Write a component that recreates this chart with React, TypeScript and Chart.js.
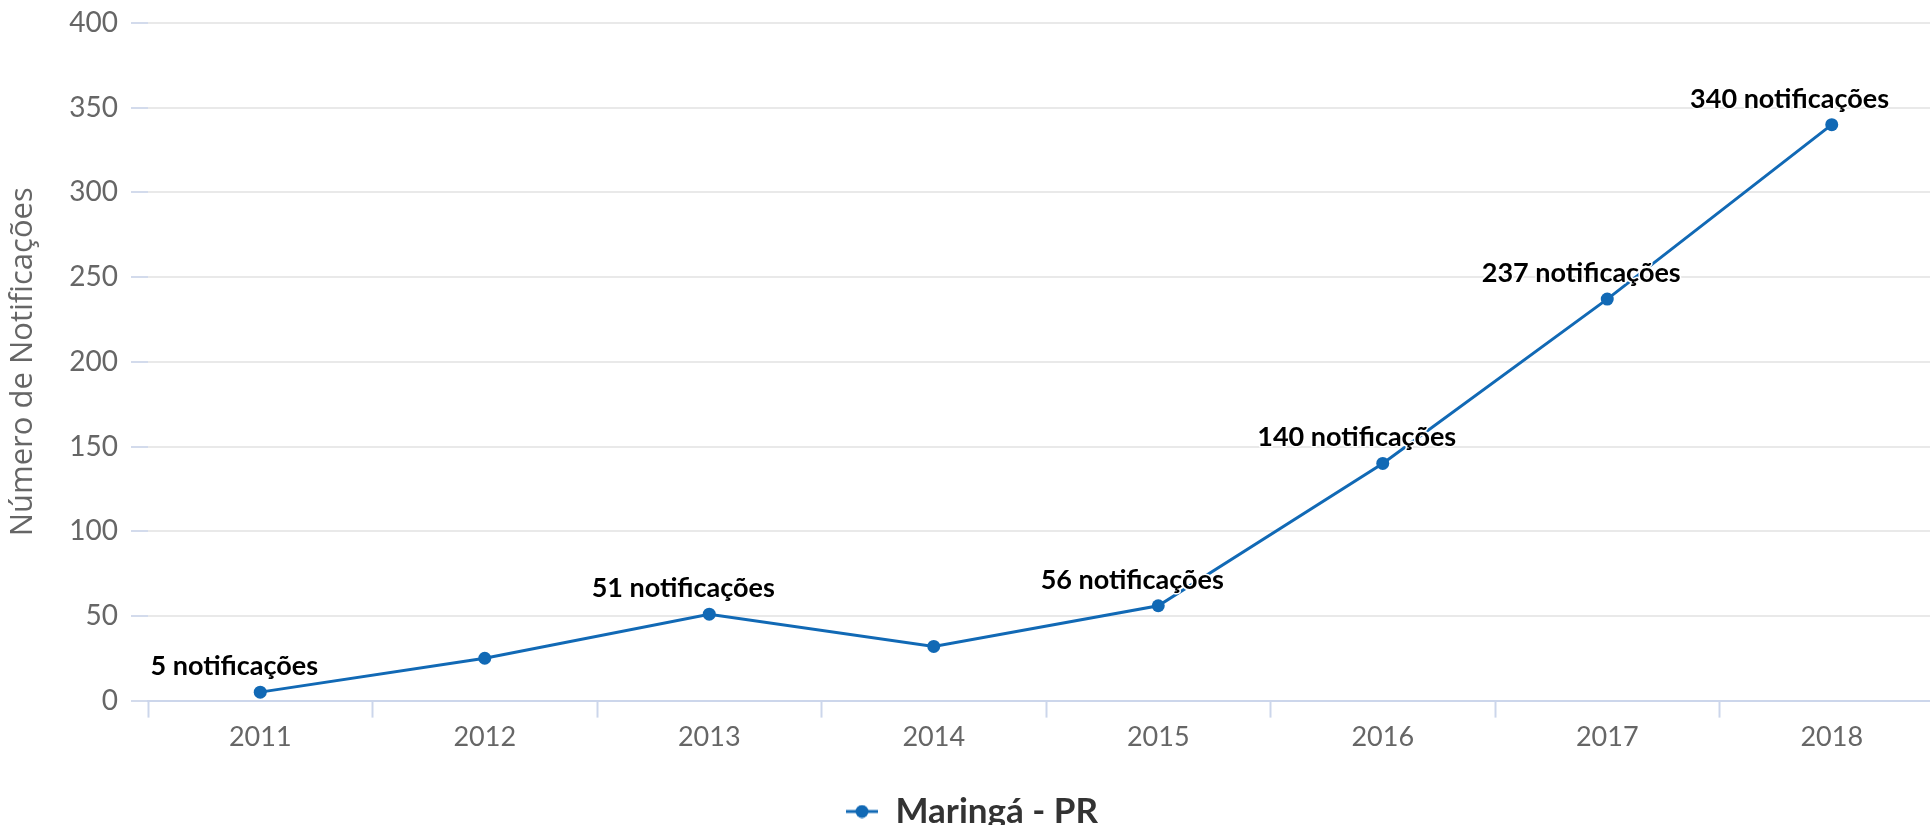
import React, { useEffect, useRef } from "react";
import { Chart, registerables } from "chart.js";

Chart.register(...registerables);

// ---- data ----
const categories = ["2011", "2012", "2013", "2014", "2015", "2016", "2017", "2018"];
const values = [5, 25, 51, 32, 56, 140, 237, 340];
const labelShown = [true, false, true, false, true, true, true, true];
const labelSuffix = " notificações";
const seriesName = "Maringá - PR";
const yTitle = "Número de Notificações";
const yMin = 0;
const yMax = 400;
const yStep = 50;

// ---- styles ----
const BLUE = "#1169b5";
const CANVAS_W = 1960;
const CANVAS_H = 839;

function makeLegendSymbol(): HTMLCanvasElement {
  const c = document.createElement("canvas");
  c.width = 32;
  c.height = 14;
  const g = c.getContext("2d")!;
  g.strokeStyle = BLUE;
  g.lineWidth = 3;
  g.beginPath();
  g.moveTo(0, 7);
  g.lineTo(32, 7);
  g.stroke();
  g.fillStyle = BLUE;
  g.beginPath();
  g.arc(16, 7, 6.5, 0, Math.PI * 2);
  g.fill();
  return c;
}

const dataLabelPlugin = {
  id: "dataLabelsCustom",
  afterDatasetsDraw(chart: any) {
    const meta = chart.getDatasetMeta(0);
    const ctx = chart.ctx as CanvasRenderingContext2D;
    ctx.save();
    ctx.font = "bold 27px Lato";
    ctx.textAlign = "center";
    ctx.textBaseline = "alphabetic";
    meta.data.forEach((pt: any, i: number) => {
      if (!labelShown[i]) return;
      const text = `${values[i]}${labelSuffix}`;
      const w = ctx.measureText(text).width;
      let x = pt.x - 26;
      const maxRight = chart.chartArea.right - 55;
      if (x + w / 2 > maxRight) x = maxRight - w / 2;
      const y = pt.y - 17;
      ctx.lineJoin = "round";
      ctx.lineWidth = 3;
      ctx.strokeStyle = "#ffffff";
      ctx.strokeText(text, x, y);
      ctx.fillStyle = "#000000";
      ctx.fillText(text, x, y);
    });
    ctx.restore();
  },
};

export default function App() {
  const ref = useRef<HTMLCanvasElement | null>(null);

  useEffect(() => {
    if (!ref.current) return;
    const legendSymbol = makeLegendSymbol();
    const chart = new Chart(ref.current, {
      type: "line",
      data: {
        labels: categories,
        datasets: [
          {
            label: seriesName,
            data: values,
            borderColor: BLUE,
            backgroundColor: BLUE,
            borderWidth: 3,
            pointRadius: 6.5,
            pointBackgroundColor: BLUE,
            pointBorderColor: BLUE,
            pointBorderWidth: 0,
            tension: 0,
            clip: false as any,
          },
        ],
      },
      options: {
        responsive: false,
        animation: false,
        devicePixelRatio: 1,
        layout: { padding: { top: 23, right: 16, left: 0, bottom: 0 } },
        plugins: {
          tooltip: { enabled: false },
          legend: {
            position: "bottom",
            labels: {
              usePointStyle: true,
              pointStyle: legendSymbol as any,
              pointStyleWidth: 32,
              color: "#333333",
              padding: 38,
              font: { family: "Lato", size: 35, weight: "bold" },
            },
          },
        },
        scales: {
          x: {
            type: "category",
            offset: true,
            grid: {
              offset: true,
              drawOnChartArea: false,
              drawTicks: true,
              tickLength: 17,
              tickWidth: 2,
              tickColor: "#ccd6eb",
            },
            border: { color: "#ccd6eb", width: 2 },
            ticks: {
              color: "#666666",
              font: { family: "Lato", size: 27 },
              padding: 3,
              maxRotation: 0,
              autoSkip: false,
            },
          },
          y: {
            min: yMin,
            max: yMax,
            ticks: {
              stepSize: yStep,
              color: "#666666",
              font: { family: "Lato", size: 28 },
              padding: 13,
            },
            grid: {
              color: "#e9e9e9",
              lineWidth: 2,
              tickLength: 17,
              tickColor: "#d3dbec",
              tickWidth: 2,
            },
            border: { display: false },
            title: {
              display: true,
              text: yTitle,
              color: "#666666",
              font: { family: "Open Sans", size: 31 },
              padding: { top: 5, bottom: 0 },
            },
            afterFit: (scale: any) => {
              scale.width = 148;
              scale.paddingTop = 0;
              scale.paddingBottom = 0;
            },
          },
        },
      },
      plugins: [dataLabelPlugin],
    });
    return () => chart.destroy();
  }, []);

  return (
    <div
      style={{
        position: "fixed",
        left: 0,
        top: 0,
        width: 1930,
        height: 825,
        overflow: "hidden",
        background: "#ffffff",
      }}
    >
      <canvas
        ref={ref}
        width={CANVAS_W}
        height={CANVAS_H}
        style={{ width: CANVAS_W, height: CANVAS_H, display: "block" }}
      />
    </div>
  );
}
